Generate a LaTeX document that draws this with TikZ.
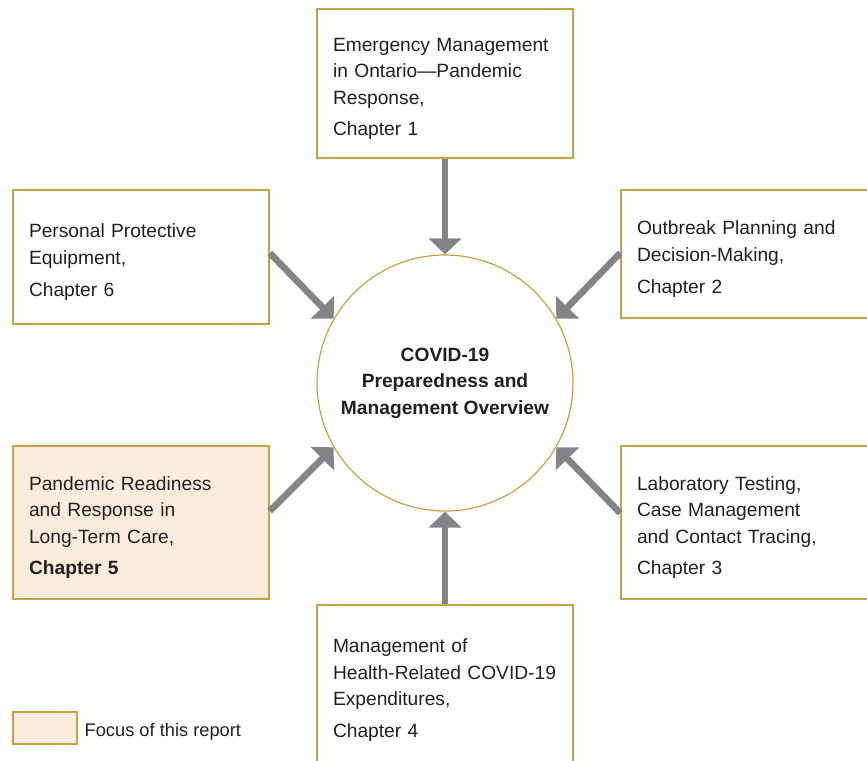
\documentclass[tikz,border=0pt]{standalone}
\usepackage{fontspec}
\setmainfont{Liberation Sans}
\usetikzlibrary{arrows.meta,positioning}
\definecolor{boxgold}{RGB}{200,161,64}
\definecolor{arrowgray}{RGB}{131,132,135}
\definecolor{focusfill}{RGB}{251,236,221}
\definecolor{inkdark}{RGB}{35,31,32}
\tikzstyle{flow} = [line width=5pt,draw=arrowgray,-{Triangle[width=24pt,length=12pt]}]
\tikzstyle{chapbox} = [rectangle, draw=boxgold, line width=1.1pt, text=inkdark, text width=168pt, text height=18pt, inner xsep=12pt, inner ysep=0pt, align=left, font=\fontsize{14.4}{19.9}\selectfont]
\tikzstyle{hubnode} = [circle, draw=boxgold, line width=0.9pt, minimum size=192pt, align=center, text=inkdark, font=\fontsize{14.4}{19.9}\selectfont\bfseries]
\tikzstyle{keybox} = [rectangle, draw=boxgold, fill=focusfill, line width=1.1pt, minimum width=48pt, minimum height=24pt, inner sep=0pt]

\begin{document}
\begin{tikzpicture}[x=0.75pt,y=-0.75pt]
	\useasboundingbox (0,0) rectangle (867,760);
	\node[hubnode](hub) at (445,383){COVID-19\\ Preparedness and\\ Management Overview};
	\node[chapbox,minimum height=111.75pt](ch1) at (445,83.5){Emergency Management\\ in Ontario—Pandemic\\ Response,\\[4pt] Chapter 1};
	\node[chapbox,minimum height=96pt](ch2) at (749,254){Outbreak Planning and\\ Decision-Making,\\[4pt] Chapter 2};
	\node[chapbox,minimum height=114.75pt](ch3) at (749,522.5){Laboratory Testing,\\ Case Management\\ and Contact Tracing,\\[4pt] Chapter 3};
	\node[chapbox,minimum height=120pt](ch4) at (445,685){Management of\\ Health-Related COVID-19\\ Expenditures,\\[4pt] Chapter 4};
	\node[chapbox,fill=focusfill,minimum height=114.75pt](ch5) at (141,522.5){Pandemic Readiness\\ and Response in\\ Long-Term Care,\\[4pt] \textbf{Chapter 5}};
	\node[chapbox,minimum height=100.5pt](ch6) at (141,257){Personal Protective\\ Equipment,\\[4pt] Chapter 6};
	% legend
	\node[keybox](key) at (45,728){};
	\node[right=5pt of key,yshift=-3pt,text=inkdark,font=\fontsize{13.7}{15}\selectfont,inner sep=0pt](keytext){Focus of this report};
	% arrows into the overview
	\draw[flow] (ch1) -- (hub);
	\draw[flow] (ch4) -- (hub);
	\draw[flow] ([yshift=3pt]ch6.east) -- (hub.150);
	\draw[flow] ([yshift=0.75pt]ch2.west) -- (hub.30);
	\draw[flow] ([yshift=8.6pt]ch5.east) -- (hub.210);
	\draw[flow] ([yshift=7pt]ch3.west) -- (hub.330);
\end{tikzpicture}
\end{document}
